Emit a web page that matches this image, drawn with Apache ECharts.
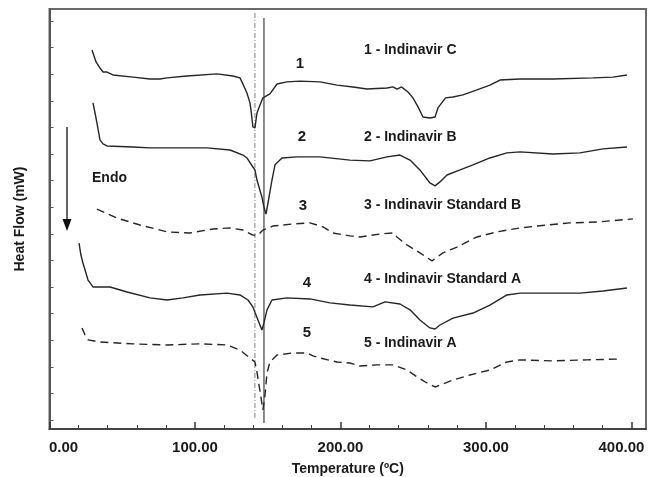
<!DOCTYPE html>
<html><head><meta charset="utf-8">
<script src="https://cdn.jsdelivr.net/npm/echarts@6/dist/echarts.min.js"></script>
<style>html,body{margin:0;padding:0;background:#fff}#c{width:657px;height:477px}</style>
</head><body><div id="c"></div>
<script>
// Temperature (ºC) / heat flow (arbitrary units, one unit per y tick)
const xMajorTicks = [0, 100, 200, 300, 400];
const xMinorTicks = [20, 40, 60, 80, 120, 140, 160, 180, 220, 240, 260, 280, 320, 340, 360, 380];
const yTicks = [0, 1, 2, 3, 4, 5, 6, 7, 8, 9, 10, 11, 12, 13, 14, 15];
const curveNumbers = ['1', '2', '3', '4', '5'];
const curveNames = ['1 - Indinavir C', '2 - Indinavir B', '3 - Indinavir Standard B', '4 - Indinavir Standard A', '5 - Indinavir A'];

const curve1 = [[29.2,13.91],[32.0,13.46],[34.7,13.23],[36.8,13.08],[39.5,13.08],[43.6,12.97],[57.4,12.89],[69.1,12.82],[76.0,12.82],[80.8,12.86],[94.5,12.93],[115.1,13.01],[126.1,12.93],[130.9,12.86],[132.3,12.71],[135.7,12.29],[137.8,11.92],[138.5,11.65],[139.8,11.02],[141.2,10.98],[142.6,11.54],[144.7,11.84],[146.7,12.11],[151.5,12.26],[156.4,12.63],[163.2,12.71],[172.2,12.74],[185.9,12.71],[197.6,12.59],[208.6,12.52],[218.2,12.44],[232.0,12.48],[236.0,12.52],[239.0,12.44],[242.0,12.52],[244.5,12.41],[246.4,12.33],[249.8,12.11],[253.3,11.77],[256.7,11.39],[261.5,11.35],[265.0,11.39],[267.0,11.73],[272.2,12.11],[277.3,12.14],[284.2,12.22],[293.8,12.41],[302.7,12.59],[309.6,12.78],[323.4,12.82],[346.0,12.82],[373.5,12.86],[387.3,12.89],[396.9,12.97]];
const curve2 = [[29.9,11.92],[31.3,11.54],[32.6,11.17],[34.7,10.53],[36.8,10.38],[39.5,10.30],[57.4,10.26],[69.1,10.23],[91.8,10.23],[108.2,10.23],[124.1,10.15],[133.0,9.96],[135.7,9.85],[139.8,9.51],[141.2,9.40],[142.6,9.02],[146.0,8.38],[147.4,8.01],[148.8,7.74],[150.2,8.16],[152.9,9.02],[155.0,9.59],[159.8,9.85],[170.1,9.89],[185.9,9.89],[206.5,9.77],[220.3,9.74],[232.0,9.89],[240.9,9.96],[247.8,9.77],[254.6,9.40],[261.5,8.91],[265.0,8.80],[268.4,8.95],[273.2,9.21],[282.2,9.40],[291.1,9.59],[302.7,9.85],[314.4,10.04],[323.4,10.08],[346.0,10.00],[364.6,10.04],[380.4,10.19],[396.9,10.26]];
const curve3 = [[32.6,7.93],[46.4,7.59],[62.2,7.33],[80.8,7.07],[96.6,7.03],[112.4,7.18],[124.1,7.22],[133.0,7.14],[139.8,6.95],[143.3,6.95],[146.7,7.14],[153.6,7.29],[167.4,7.37],[179.0,7.41],[188.0,7.26],[194.8,7.03],[206.5,6.92],[213.4,6.88],[227.1,6.99],[236.1,7.03],[238.8,6.88],[245.7,6.58],[254.6,6.28],[262.9,5.98],[270.4,6.28],[280.1,6.50],[293.8,6.88],[307.6,7.07],[323.4,7.22],[341.9,7.33],[357.7,7.41],[376.3,7.44],[401.0,7.56]];
const curve4 = [[20.3,6.65],[21.6,6.20],[23.0,5.90],[26.5,5.26],[29.9,5.00],[41.6,5.00],[53.3,4.81],[69.1,4.59],[80.8,4.51],[91.8,4.59],[103.4,4.70],[122.0,4.77],[130.9,4.70],[136.4,4.51],[139.8,4.25],[143.3,3.76],[146.0,3.38],[147.4,3.65],[149.5,4.14],[152.9,4.51],[163.2,4.59],[179.0,4.55],[192.8,4.40],[206.5,4.32],[222.3,4.25],[230.6,4.44],[240.9,4.36],[247.8,4.14],[254.6,3.76],[261.5,3.46],[265.0,3.42],[268.4,3.57],[277.3,3.83],[291.1,4.02],[302.7,4.32],[314.4,4.70],[323.4,4.77],[346.0,4.77],[364.6,4.77],[380.4,4.85],[396.9,4.96]];
const curve5 = [[22.3,3.46],[24.4,3.20],[26.5,3.01],[34.7,2.93],[57.4,2.86],[80.8,2.82],[103.4,2.86],[122.0,2.82],[130.9,2.63],[137.8,2.33],[141.2,2.18],[142.6,1.80],[144.0,1.32],[145.4,0.83],[146.7,0.38],[148.1,0.94],[149.5,1.77],[151.5,2.18],[156.4,2.44],[167.4,2.52],[177.0,2.52],[181.1,2.41],[185.9,2.33],[197.6,2.18],[206.5,2.14],[213.4,2.03],[225.1,2.07],[236.1,2.07],[245.7,1.88],[252.6,1.62],[259.5,1.39],[265.0,1.24],[277.3,1.50],[289.0,1.69],[302.7,1.88],[314.4,2.18],[323.4,2.26],[346.0,2.22],[369.4,2.26],[392.1,2.29]];
const markerDashDot = [[141.2,15.30],[141.2,0.08]];
const markerSolid = [[147.4,15.11],[147.4,-0.11]];

const FONT = "'Liberation Sans', Arial, sans-serif";
const chart = echarts.init(document.getElementById('c'), null, {renderer: 'canvas'});

function fmtX(v) {
  if (v === 0) return '{first|' + v.toFixed(2) + '}';
  if (v === 400) return '{last|' + v.toFixed(2) + '}';
  return '{n|' + v.toFixed(2) + '}';
}
const lblBase = {fontFamily: FONT, fontWeight: 'bold', fontSize: 15, color: '#1a1a1a'};

const curveStyle = (dashed) => ({color: '#262626', width: 1.4, type: dashed ? [8, 5] : 'solid'});
const mkLine = (data, dashed) => ({
  type: 'line', data: data, showSymbol: false, symbol: 'none', animation: false,
  lineStyle: curveStyle(dashed), itemStyle: {color: '#262626'}, z: 3
});

const textEl = (txt, x, y, size, align) => ({
  type: 'text', x: x, y: y, z: 10,
  style: {text: txt, font: 'bold ' + size + 'px ' + FONT, fill: '#1a1a1a', textAlign: align || 'center', textVerticalAlign: 'middle'}
});

const graphics = [
  {type: 'line', shape: {x1: 67, y1: 127, x2: 67, y2: 222}, style: {stroke: '#333', lineWidth: 1.5}, z: 10},
  {type: 'polygon', shape: {points: [[62.5, 219], [71.5, 219], [67, 231]]}, style: {fill: '#111'}, z: 10},
  textEl('Endo', 92, 178, 14, 'left')
];
const numPos = [[300, 64], [302, 137], [303, 206], [307, 283], [307, 333]];
const namePos = [50, 137, 205, 279, 343];
curveNumbers.forEach((t, i) => graphics.push(textEl(t, numPos[i][0], numPos[i][1], 15)));
curveNames.forEach((t, i) => graphics.push(textEl(t, 364, namePos[i], 14, 'left')));

chart.setOption({
  backgroundColor: '#fff',
  animation: false,
  grid: {left: 49.5, top: 9, right: 11, bottom: 48, containLabel: false, outerBoundsMode: 'none',
    show: true, borderColor: '#6a6a6a', borderWidth: 2, backgroundColor: 'transparent'},
  xAxis: [{
    type: 'value', min: 0, max: 410, position: 'bottom',
    name: 'Temperature (ºC)', nameLocation: 'middle', nameGap: 33,
    nameTextStyle: {fontFamily: FONT, fontWeight: 'bold', fontSize: 14, color: '#1a1a1a'},
    axisLine: {show: true, onZero: false, lineStyle: {color: '#444', width: 2}},
    axisTick: {show: true, inside: true, length: 7, customValues: xMajorTicks, lineStyle: {color: '#333', width: 1.5}},
    axisLabel: {show: true, customValues: xMajorTicks, margin: 11, formatter: fmtX,
      rich: {n: lblBase, first: Object.assign({padding: [0, 0, 0, 28]}, lblBase), last: Object.assign({padding: [0, 20, 0, 0]}, lblBase)}},
    splitLine: {show: false}
  }, {
    type: 'value', min: 0, max: 410, position: 'bottom', offset: 0,
    axisLine: {show: false, onZero: false},
    axisTick: {show: true, inside: true, length: 4, customValues: xMinorTicks, lineStyle: {color: '#444', width: 1}},
    axisLabel: {show: false}, splitLine: {show: false}
  }],
  yAxis: {
    type: 'value', min: -0.34, max: 15.45,
    name: 'Heat Flow (mW)', nameLocation: 'middle', nameGap: 22,
    nameTextStyle: {fontFamily: FONT, fontWeight: 'bold', fontSize: 14, color: '#1a1a1a'},
    axisLine: {show: true, onZero: false, lineStyle: {color: '#555', width: 2}},
    axisTick: {show: true, inside: true, length: 4, customValues: yTicks, lineStyle: {color: '#555', width: 1}},
    axisLabel: {show: false}, splitLine: {show: false}
  },
  series: [
    {type: 'line', data: markerDashDot, showSymbol: false, symbol: 'none', lineStyle: {color: '#808080', width: 1, type: [5, 2, 1, 2]}, z: 2},
    {type: 'line', data: markerSolid, showSymbol: false, symbol: 'none', lineStyle: {color: '#707070', width: 1.6}, z: 2},
    mkLine(curve1, false),
    mkLine(curve2, false),
    mkLine(curve3, true),
    mkLine(curve4, false),
    mkLine(curve5, true)
  ],
  graphic: graphics
});
</script></body></html>
